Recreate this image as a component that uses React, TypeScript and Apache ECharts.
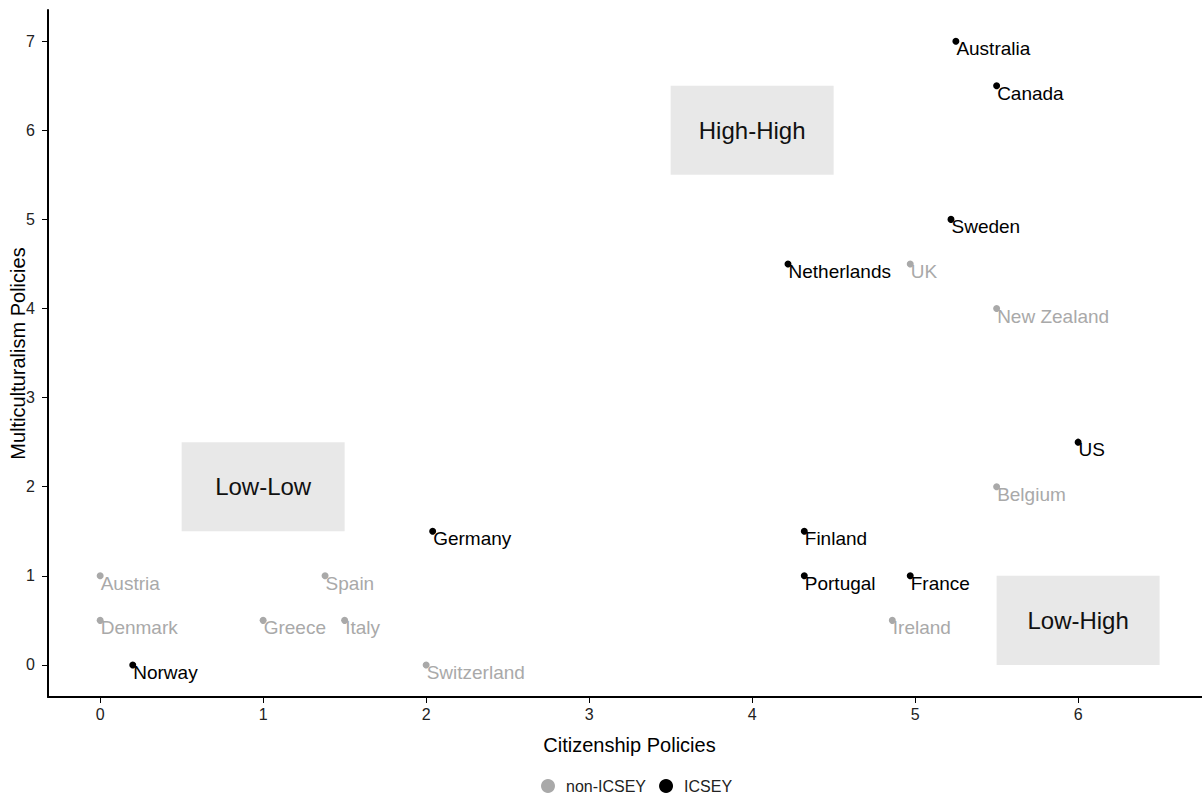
import React, { useEffect, useRef } from "react";
import * as echarts from "echarts";

const countries = [
  "Australia", "Canada", "Sweden", "Netherlands", "UK", "New Zealand", "US",
  "Belgium", "Germany", "Finland", "Portugal", "France", "Ireland", "Austria",
  "Spain", "Denmark", "Greece", "Italy", "Norway", "Switzerland",
];
const citizenship = [
  5.25, 5.5, 5.22, 4.22, 4.97, 5.5, 6, 5.5, 2.04, 4.32, 4.32, 4.97, 4.86, 0,
  1.38, 0, 1, 1.5, 0.2, 2,
];
const multiculturalism = [
  7, 6.5, 5, 4.5, 4.5, 4, 2.5, 2, 1.5, 1.5, 1, 1, 0.5, 1, 1, 0.5, 0.5, 0.5, 0, 0,
];
const icsey = [
  true, true, true, true, false, false, true, false, true, true, true, true,
  false, false, false, false, false, false, true, false,
];

const boxNames = ["High-High", "Low-Low", "Low-High"];
const boxX = [[3.5, 4.5], [0.5, 1.5], [5.5, 6.5]];
const boxY = [[5.5, 6.5], [1.5, 2.5], [0, 1]];

const xTicks = [0, 1, 2, 3, 4, 5, 6];
const yTicks = [0, 1, 2, 3, 4, 5, 6, 7];

const GREY = "#a9a9a9";
const BLACK = "#000000";
const FONT = "'Liberation Sans', Arial, Helvetica, sans-serif";

function pointsFor(flag: boolean) {
  const out: any[] = [];
  countries.forEach((c, i) => {
    if (icsey[i] === flag) out.push({ name: c, value: [citizenship[i], multiculturalism[i]] });
  });
  return out;
}

export default function App() {
  const ref = useRef<HTMLDivElement>(null);
  useEffect(() => {
    if (!ref.current) return;
    const chart = echarts.init(ref.current, null, { renderer: "svg" });
    const labelCfg = (color: string) => ({
      show: true,
      formatter: (p: any) => p.name,
      position: [4, 11],
      align: "left",
      verticalAlign: "middle",
      fontSize: 19,
      fontFamily: FONT,
      color,
    });
    const axisCommon = {
      type: "value",
      splitLine: { show: false },
      axisLine: { show: true, onZero: false, lineStyle: { color: "#000", width: 2 } },
      axisTick: { show: true, length: 6, lineStyle: { color: "#000", width: 1 } },
      nameLocation: "middle",
      nameMoveOverlap: false,
    };
    chart.setOption({
      animation: false,
      textStyle: { fontFamily: FONT },
      grid: {
        left: 48,
        right: 0,
        top: 10,
        bottom: 98,
        containLabel: false,
        outerBoundsMode: "none",
      },
      xAxis: {
        ...axisCommon,
        min: -0.32,
        max: 6.76,
        name: "Citizenship Policies",
        nameGap: 38,
        nameTextStyle: { fontSize: 20, fontFamily: FONT, color: "#000", padding: [0, 0, 0, 9] },
        axisTick: { ...axisCommon.axisTick, customValues: xTicks },
        axisLabel: { customValues: xTicks, fontSize: 16, color: "#222", margin: 9, fontFamily: FONT },
      },
      yAxis: {
        ...axisCommon,
        min: -0.36,
        max: 7.35,
        name: "Multiculturalism Policies",
        nameGap: 20,
        nameTextStyle: { fontSize: 20, fontFamily: FONT, color: "#000" },
        axisTick: { ...axisCommon.axisTick, customValues: yTicks },
        axisLabel: { customValues: yTicks, fontSize: 16, color: "#222", margin: 13, fontFamily: FONT },
      },
      legend: {
        data: [
          { name: "non-ICSEY", icon: "circle", itemStyle: { color: GREY, opacity: 1 } },
          { name: "ICSEY", icon: "circle", itemStyle: { color: BLACK, opacity: 1 } },
        ],
        left: 541,
        top: 778,
        padding: 0,
        itemWidth: 14,
        itemHeight: 14,
        itemGap: 13,
        textStyle: { fontSize: 16, color: "#222", fontFamily: FONT, padding: [0, 0, 0, 6] },
      },
      series: [
        {
          type: "scatter",
          name: "boxes",
          data: [],
          z: 1,
          silent: true,
          markArea: {
            silent: true,
            itemStyle: { color: "#e8e8e8", opacity: 1 },
            label: {
              show: true,
              position: "inside",
              fontSize: 24,
              color: "#111",
              fontFamily: FONT,
            },
            data: boxNames.map((n, i) => [
              { name: n, coord: [boxX[i][0], boxY[i][0]] },
              { coord: [boxX[i][1], boxY[i][1]] },
            ]),
          },
        },
        {
          type: "scatter",
          name: "non-ICSEY",
          data: pointsFor(false),
          symbolSize: 7,
          z: 3,
          itemStyle: { color: GREY, opacity: 1 },
          label: labelCfg(GREY),
        },
        {
          type: "scatter",
          name: "ICSEY",
          data: pointsFor(true),
          symbolSize: 7,
          z: 3,
          itemStyle: { color: BLACK, opacity: 1 },
          label: labelCfg(BLACK),
        },
      ],
    });
    return () => chart.dispose();
  }, []);
  return (
    <div
      ref={ref}
      style={{ position: "fixed", left: 0, top: 0, width: 1202, height: 795, background: "#fff" }}
    />
  );
}
